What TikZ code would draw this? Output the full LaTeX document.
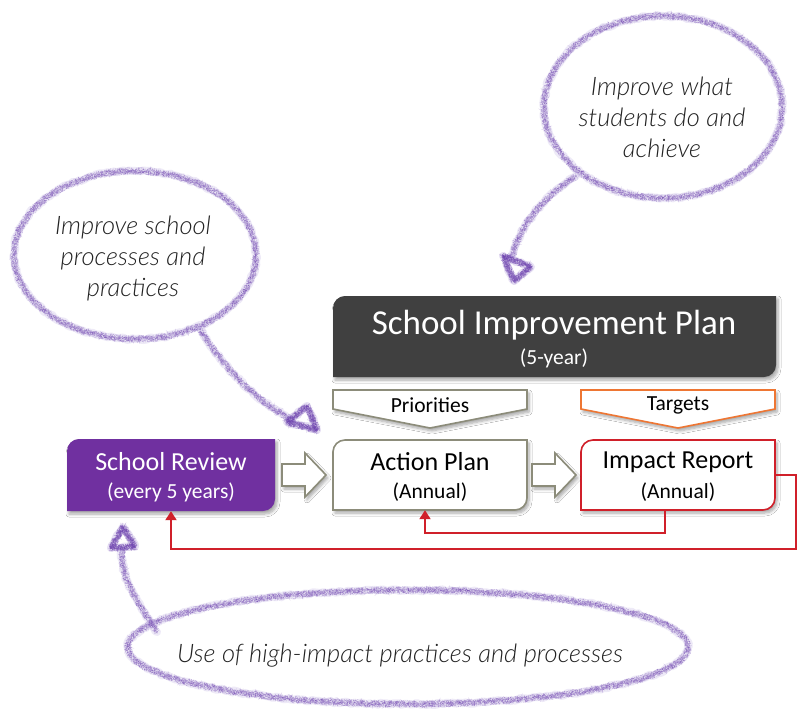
\documentclass[tikz,border=0pt]{standalone}
\usepackage{fontspec}
\setmainfont{Carlito}
\newfontfamily\handfont{Lato Light}
\usetikzlibrary{decorations.pathmorphing,shadows.blur,arrows.meta,calc}

\definecolor{sipgray}{HTML}{404040}
\definecolor{revpurple}{HTML}{7030A0}
\definecolor{plangray}{HTML}{8C8C7A}
\definecolor{linkred}{HTML}{D0202A}
\definecolor{tgtorange}{HTML}{EE7633}
\definecolor{chalkc}{HTML}{6E43B0}
\definecolor{chalklight}{HTML}{B3A0DD}
\definecolor{inkgray}{HTML}{222222}

\tikzset{
  softshadow/.style={blur shadow={shadow xshift=2pt, shadow yshift=-3pt,
      shadow blur steps=6, shadow blur radius=3pt, shadow opacity=35}},
  anchorbox/.style={rectangle, inner sep=0pt, draw=none},
  flowarrow/.style={fill=white, draw=plangray, line width=1.6pt, line join=miter, softshadow},
  banner/.style={fill=white, line width=1.6pt, line join=miter, softshadow},
  feedback/.style={draw=linkred, line width=2pt, -{Triangle[length=9pt,width=11pt]}},
  chalkbase/.style={draw=chalklight, line width=8pt, line cap=round, line join=round,
      opacity=0.22, decorate, decoration={random steps, segment length=3pt, amplitude=1.2pt}},
  chalkgrain/.style={draw=chalkc, line width=0.6pt, line cap=round, opacity=0.30,
      dash pattern=on 0.5pt off 1.6pt,
      decorate, decoration={random steps, segment length=1.1pt, amplitude=3.6pt}},
  handnote/.style={font=\handfont\itshape\fontsize{25.5}{31}\selectfont, text=inkgray,
      align=center, inner sep=0pt},
  bigtitle/.style={font=\fontsize{35}{38}\selectfont, text=white, inner sep=0pt},
  boxtitle/.style={font=\fontsize{26}{28}\selectfont, inner sep=0pt},
  boxsub/.style={font=\fontsize{21.5}{23}\selectfont, inner sep=0pt},
}

% box with the top-left and bottom-right corners rounded
\newcommand\diagbox[5]{%
  \path[#1] (#2,#5) -- (#2,#3+12) arc[start angle=180,end angle=270,radius=12]
    -- (#4,#3) -- (#4,#5-12) arc[start angle=0,end angle=90,radius=12] -- cycle;}

% wide hollow arrow pointing right, starting at x=#1, centred on y=#2
\newcommand\blockarrow[2]{%
  \path[flowarrow] (#1,#2-11) -- ++(23,0) -- ++(0,-11) -- ++(21,22)
    -- ++(-21,22) -- ++(0,-11) -- ++(-23,0) -- cycle;}

% grainy chalk stroke: a soft base plus several speckled passes
\newcommand\chalkstroke[1]{%
  \draw[chalkbase] #1;
  \foreach \k in {1,...,9}{\draw[chalkgrain] #1;}}

% chalk arrowhead: a heavier scribbled triangle
\newcommand\chalkhead[1]{%
  \draw[chalkbase, opacity=0.3] #1;
  \foreach \k in {1,...,16}{\draw[chalkgrain, opacity=0.35] #1;}}

\begin{document}
\begin{tikzpicture}[x=1pt,y=-1pt]
\pgfmathsetseed{4217}
\fill[white] (0,0) rectangle (798,709);
\useasboundingbox (0,0) rectangle (798,709);

% ---- School Improvement Plan ----
\diagbox{fill=sipgray, softshadow}{333}{296}{776}{377}
\node[anchorbox, minimum width=443pt, minimum height=81pt] (sip) at (554.5,336.5) {};
\node[bigtitle] (siptitle) at (554,325) {School Improvement Plan};
\node[boxsub, text=white] (sipsub) at (554,358) {(5-year)};

% ---- banners under the plan ----
\path[banner, draw=plangray] (333,390) -- (527,390) -- (527,409) -- (430,428) -- (333,409) -- cycle;
\node[boxsub] (prio) at (430,405) {Priorities};
\path[banner, draw=tgtorange] (581,390) -- (775,390) -- (775,409) -- (678,428) -- (581,409) -- cycle;
\node[boxsub] (tgt) at (678,405) {Targets};

% ---- the three stages ----
\diagbox{fill=revpurple, softshadow}{67}{439}{275}{511}
\node[anchorbox, minimum width=208pt, minimum height=72pt] (sr) at (171,475) {};
\node[boxtitle, text=white] (srtitle) at (171,462) {School Review};
\node[boxsub, text=white] (srsub) at (171,492) {(every 5 years)};

\diagbox{fill=white, draw=plangray, line width=1.6pt, softshadow}{333}{440}{527}{510}
\node[anchorbox, minimum width=194pt, minimum height=70pt] (ap) at (430,475) {};
\node[boxtitle] (aptitle) at (430,462) {Action Plan};
\node[boxsub] (apsub) at (430,492) {(Annual)};

\diagbox{fill=white, draw=linkred, line width=1.6pt, softshadow}{581}{440}{775}{510}
\node[anchorbox, minimum width=194pt, minimum height=70pt] (ir) at (678,475) {};
\node[boxtitle] (irtitle) at (678,462) {Impact Report};
\node[boxsub] (irsub) at (678,492) {(Annual)};

% ---- flow between stages ----
\blockarrow{282}{475}
\blockarrow{532}{475}

% ---- feedback loops ----
\draw[feedback] ([xshift=-13pt]ir.south) -- ++(0,23) -| ([xshift=-5pt]ap.south);
\draw[feedback] (ir.east) -- ++(21,0) -- ++(0,74) -| (sr.south);

% ---- chalk callouts ----
\chalkstroke{(663,107) ellipse[x radius=119, y radius=91]}
\chalkstroke{(576,176) .. controls (545,196) and (518,226) .. (512,258)}
\chalkhead{(503,256) -- (531,267) -- (514,281) -- cycle}
\node[handnote] (note1) at (662,117) {Improve what\\students do and\\achieve};

\chalkstroke{(135,255) ellipse[x radius=121, y radius=84]}
\chalkstroke{(200,329) .. controls (225,370) and (255,400) .. (293,420)}
\chalkhead{(287,422) -- (307,406) -- (317,430) -- cycle}
\node[handnote] (note2) at (133,258) {Improve school\\processes and\\practices};

\chalkstroke{(408,647) ellipse[x radius=280, y radius=57]}
\chalkstroke{(157,632) .. controls (135,600) and (120,575) .. (122,550)}
\chalkhead{(111,548) -- (123,527) -- (135,547) -- cycle}
\node[handnote] (note3) at (400,656) {Use of high-impact practices and processes};
\end{tikzpicture}
\end{document}
